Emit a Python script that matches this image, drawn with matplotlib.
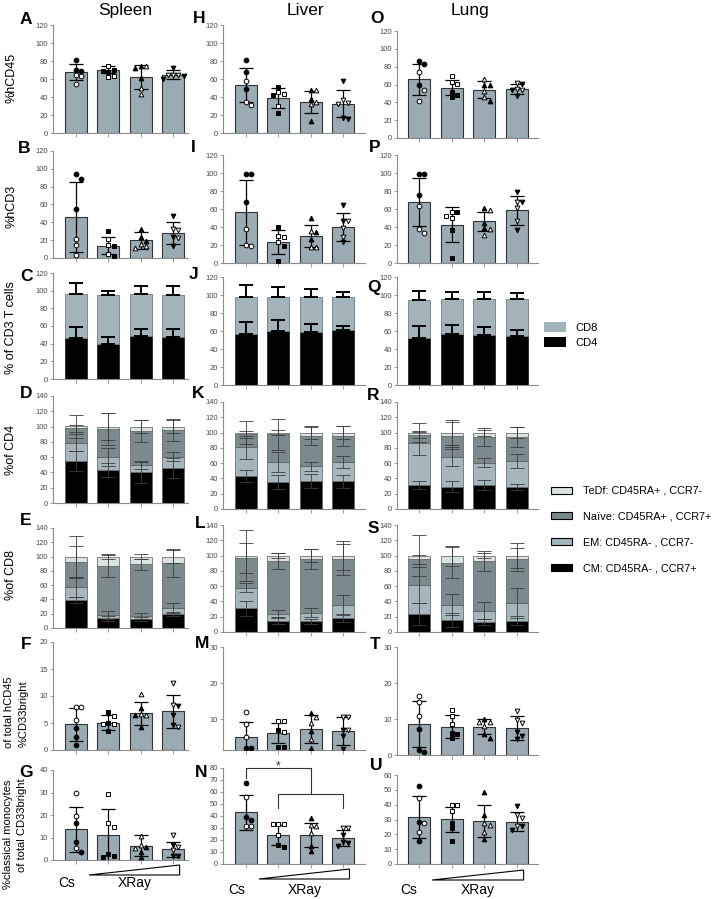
# plot.py
# Multi-panel bar chart: hCD45 / CD3 / subsets / CD33 in spleen, liver and lung

import numpy as np
import matplotlib
matplotlib.use("Agg")
import matplotlib.pyplot as plt
from matplotlib.patches import Patch, Polygon
from matplotlib.transforms import blended_transform_factory

plt.rcParams["font.family"] = ["Liberation Sans", "DejaVu Sans"]

# ===============================
# DATA
# ===============================
tissues = ["Spleen", "Liver", "Lung"]
group_markers = ["o", "s", "^", "v"]   # Cs, XRay low -> high

# --- %hCD45 ---
A_mean = [67.6, 70.5, 62.0, 65.0]
A_sd = [9.0, 3.5, 13.5, 4.5]
A_filled = [[81, 70, 69], [70, 69, 68], [75, 72, 61], [72, 63.5, 60.5]]
A_open = [[64, 63, 55], [74, 63, 62], [75, 50, 43.5], [64, 65, 64]]

H_mean = [53.0, 38.7, 34.2, 32.3]
H_sd = [19.0, 11.0, 12.0, 15.0]
H_filled = [[81, 67.7, 49], [51, 42, 22.3], [47.6, 38, 13], [58, 16, 16.7]]
H_open = [[58, 31, 34.6], [42.8, 45.7, 29.7], [47.6, 32, 34], [33.5, 36.4, 32.3]]

O_mean = [65.8, 56.5, 54.0, 55.4]
O_sd = [17.5, 8.7, 9.7, 5.6]
O_filled = [[83, 86.6, 59], [52, 46.5, 48.3], [59, 59, 41], [60.6, 54, 47]]
O_open = [[74, 54, 42], [69.5, 62.8, 60.6], [66, 53, 45.7], [61.3, 54.6, 54]]

# --- %hCD3 ---
B_mean = [46.0, 13.7, 19.7, 27.9]
B_sd = [38.8, 9.5, 9.5, 12.0]
B_filled = [[89, 94, 55], [30, 13, 2.6], [33, 24, 19], [47, 23, 14]]
B_open = [[21, 15, 3.7], [21, 15, 4.8], [16, 13, 11], [32, 31, 22]]

I_mean = [56.5, 23.4, 30.0, 40.0]
I_sd = [36.0, 13.4, 12.2, 15.4]
I_filled = [[98.5, 98.5, 67.7], [39.8, 18.6, 2], [50, 35, 27], [65, 47, 23]]
I_open = [[38, 18.6, 20], [29.7, 28.6, 23.4], [36, 17.8, 17.8], [46.5, 39, 29]]

P_mean = [68.0, 42.7, 46.5, 58.7]
P_sd = [27.0, 19.6, 10.5, 16.0]
P_filled = [[98.5, 98.5, 75.5], [56.5, 37, 5.6], [61.3, 44.6, 39], [78.8, 67.7, 36.4]]
P_open = [[63, 38, 33.5], [52.4, 56.5, 49.8], [58.7, 38, 31.6], [67.7, 61.3, 47]]

# --- % of CD3 T cells (CD4 / CD8) ---
C_cd4 = [46.4, 40.0, 48.3, 47.2]
C_cd4_sd = [12.1, 7.5, 8.7, 9.8]
C_cd8 = [50.2, 55.5, 47.7, 47.8]
C_cd8_sd = [11.7, 4.1, 8.9, 10.7]

J_cd4 = [56.3, 60.0, 58.5, 60.7]
J_cd4_sd = [13.3, 12.2, 9.3, 5.3]
J_cd8 = [41.1, 37.4, 39.5, 36.7]
J_cd8_sd = [13.6, 11.1, 8.7, 6.3]

Q_cd4 = [52.6, 56.7, 55.5, 54.8]
Q_cd4_sd = [13.4, 10.0, 8.5, 6.2]
Q_cd8 = [41.4, 38.5, 39.7, 40.4]
Q_cd8_sd = [10.8, 8.5, 8.5, 6.6]

# --- memory subsets: rows CM, EM, Naive, TeDf ; columns = groups ---
subset_names = ["TeDf: CD45RA+ , CCR7-", "Naïve: CD45RA+ , CCR7+",
                "EM: CD45RA- , CCR7-", "CM: CD45RA- , CCR7+"]

D_seg = [[54.6, 43.0, 40.0, 45.5], [24.3, 16.8, 10.0, 15.2],
         [18.6, 37.2, 44.0, 34.7], [3.0, 3.0, 6.0, 4.6]]
D_sd = [[13, 9, 14, 13], [11, 12, 5, 6], [5, 21, 14, 14], [15, 18, 9, 9]]

K_seg = [[43.0, 35.0, 36.6, 36.0], [38.0, 26.5, 19.2, 25.0],
         [16.5, 36.0, 39.7, 34.0], [2.5, 2.5, 4.5, 5.0]]
K_sd = [[8, 9, 9, 8], [15, 13, 6, 8], [4, 20, 12, 13], [15, 3, 8, 9]]

R_seg = [[31.0, 29.0, 31.4, 28.4], [55.0, 39.5, 29.2, 34.6],
         [11.0, 27.5, 33.4, 31.0], [3.0, 4.0, 6.0, 6.0]]
R_sd = [[5, 7, 6, 4], [16, 12, 6, 9], [4, 18, 12, 13], [12, 16, 4, 7]]

E_seg = [[39.0, 13.5, 13.0, 20.0], [18.0, 4.5, 4.0, 8.0],
         [36.0, 69.0, 72.0, 63.0], [7.0, 13.0, 11.0, 9.0]]
E_sd = [[4, 3, 3, 3], [13, 6, 4, 7], [22, 15, 8, 19], [29, 4, 4, 9]]

L_seg = [[31.0, 14.0, 14.0, 18.0], [27.0, 10.0, 11.0, 17.0],
         [39.0, 69.0, 70.0, 60.0], [3.0, 7.0, 5.0, 5.0]]
L_sd = [[10, 4, 3, 5], [6, 5, 6, 13], [20, 11, 13, 20], [33, 3, 8, 19]]

S_seg = [[23.5, 16.0, 13.0, 15.0], [38.2, 19.6, 15.0, 23.0],
         [33.3, 55.1, 65.0, 57.0], [5.0, 9.3, 7.0, 5.0]]
S_sd = [[14, 9, 4, 6], [24, 14, 11, 20], [6, 20, 13, 15], [27, 13, 3, 16]]

# --- %CD33bright of total hCD45 ---
F_mean = [4.75, 5.06, 6.8, 7.2]
F_sd = [3.0, 1.35, 2.1, 3.05]
F_filled = [[4, 2.5, 0.9], [5, 7, 3.6], [7.7, 6.5, 4.3], [8.1, 6.5, 4.6]]
F_open = [[8, 8, 5.6], [6.3, 4.8, 4.8], [10.4, 6.7, 6.5], [12.5, 8.3, 4.3]]

M_mean = [5.0, 6.1, 7.2, 6.75]
M_sd = [4.3, 2.8, 3.8, 3.95]
M_filled = [[2, 2, 0.5], [6.9, 2.2, 2.2], [11.8, 6.8, 1.9], [7, 5.2, 1.8]]
M_open = [[12, 8.5, 5], [9.4, 9.4, 6.4], [10.6, 8.9, 4.4], [10.7, 10.7, 6.9]]

T_mean = [8.6, 7.9, 7.9, 7.5]
T_sd = [6.5, 3.1, 2.2, 3.2]
T_filled = [[7.3, 0.8, 1.5], [4.7, 5.9, 6.1], [10, 4.8, 5.9], [6.3, 4.4, 5.2]]
T_open = [[16.5, 14.6, 10.9], [12.6, 10.7, 8.7], [9.3, 9.3, 8], [12.3, 9.6, 8.9]]

# --- %classical monocytes of total CD33bright ---
G_mean = [13.6, 11.1, 6.4, 4.7]
G_sd = [10.0, 11.6, 4.7, 3.4]
G_filled = [[16.3, 8.1, 3.7], [2.7, 2.0, 1.5], [5.9, 3.7, 1.5], [6.7, 1.8, 1.8]]
G_open = [[30, 19.6, 5.2], [29.3, 16.3, 14.8], [10.8, 6.7, 5.2], [11.1, 5.9, 4.4]]

N_mean = [43.0, 24.4, 24.2, 21.7]
N_sd = [14.5, 8.4, 9.8, 6.7]
N_filled = [[67.5, 39, 37], [16, 14], [38.3, 15.3, 10.6], [24.4, 17.5, 18, 14.7]]
N_open = [[55.5, 31.5, 31.5], [33.3, 33.3, 33.3, 24.4], [31.4, 32.2, 25.8], [30, 30]]
N_sig_upper = 80      # Cs vs XRay bracket
N_sig_lower = 58.3
N_sig_drops = [72, 46.7]

U_mean = [31.6, 30.2, 29.1, 28.6]
U_sd = [14.0, 8.4, 10.9, 6.2]
U_filled = [[52.8, 28.6, 15.7], [27.5, 24.2, 15.2], [48.4, 33.1, 16.8], [39.2, 25.3, 22.6]]
U_open = [[44.8, 27.5, 21.9], [39.9, 39.9, 36], [26.4, 27.5, 21.9], [33.1, 30.9, 25.3]]

# ===============================
# STYLE
# ===============================
W, H = 728, 899
BAR = "#9aabb3"
CD8_COLOR = "#a2b3ba"
SUBSET_COLORS = ["#000000", "#a5b6bc", "#7b8b8d", "#dbe2e2"]  # CM, EM, Naive, TeDf
SPINE = "#8c8c8c"
TICKLAB = "#4a4a4a"
BAR_W = 0.68

fig = plt.figure(figsize=(W / 100, H / 100), dpi=100)

# column pixel extents and x limits
col_px = [(53, 188), (223, 365), (397, 538)]
col_xlim = [(-0.71, 3.46), (-0.71, 3.68), (-0.67, 3.64)]


def make_axes(col, top, bottom):
    left, right = col_px[col]
    ax = fig.add_axes([left / W, 1 - bottom / H, (right - left) / W, (bottom - top) / H])
    ax.set_xlim(*col_xlim[col])
    return ax


def style(ax, ylim, yticks):
    ax.set_ylim(*ylim)
    ax.set_yticks(yticks)
    ax.set_xticks(range(4))
    ax.set_xticklabels([])
    for s in ["top", "right"]:
        ax.spines[s].set_visible(False)
    for s in ["left", "bottom"]:
        ax.spines[s].set_color(SPINE)
        ax.spines[s].set_linewidth(0.8)
    ax.tick_params(axis="y", length=2.5, width=0.6, color=SPINE, labelsize=5.5,
                   labelcolor=TICKLAB, pad=1)
    ax.tick_params(axis="x", length=3, width=0.6, color=SPINE)


def swarm(ax, vals, diam=4.6):
    # spread points horizontally (pixels) where they would overlap
    ys = ax.transData.transform(np.column_stack([np.zeros(len(vals)), vals]))[:, 1]
    placed, offs = [], []
    for y in ys:
        for k in [0, 1, -1, 2, -2, 3, -3]:
            dx = k * diam * 1.15
            if all(abs(dx - px) >= diam or abs(y - py) >= diam for px, py in placed):
                break
        placed.append((dx, y))
        offs.append(dx)
    p0 = ax.transData.transform([[0, 0], [1, 0]])
    return np.array(offs) / (p0[1, 0] - p0[0, 0])


def scatter_panel(ax, mean, sd, filled, opened, ylim, yticks):
    x = np.arange(4)
    style(ax, ylim, yticks)
    ax.bar(x, mean, width=BAR_W, color=BAR, edgecolor="#333333", linewidth=0.8, zorder=1)
    ax.errorbar(x, mean, yerr=sd, fmt="none", ecolor="black", elinewidth=0.9,
                capsize=5, capthick=0.9, zorder=2)
    for i in range(4):
        vals = list(filled[i]) + list(opened[i])
        solid = [True] * len(filled[i]) + [False] * len(opened[i])
        order = np.argsort(vals)[::-1]
        vals = [vals[j] for j in order]
        solid = [solid[j] for j in order]
        dx = swarm(ax, vals)
        for v, s, d in zip(vals, solid, dx):
            ax.plot(i + d, v, marker=group_markers[i], ms=3.4, mew=0.7,
                    mec="black", mfc="black" if s else "white", zorder=3)


def cd_panel(ax, cd4, cd4_sd, cd8, cd8_sd):
    x = np.arange(4)
    style(ax, (0, 120), range(0, 121, 20))
    cd4 = np.array(cd4)
    top = cd4 + np.array(cd8)
    ax.bar(x, cd4, width=BAR_W, color="black", edgecolor="#222222", linewidth=0.6, zorder=1)
    ax.bar(x, cd8, width=BAR_W, bottom=cd4, color=CD8_COLOR, edgecolor="#6e7e84",
           linewidth=0.6, zorder=1)
    zeros = np.zeros(4)
    ax.errorbar(x, cd4, yerr=[zeros, cd4_sd], fmt="none", ecolor="black",
                elinewidth=1.4, capsize=5, capthick=1.4, zorder=2)
    ax.errorbar(x, top, yerr=[zeros, cd8_sd], fmt="none", ecolor="black",
                elinewidth=1.4, capsize=5, capthick=1.4, zorder=2)


def subset_panel(ax, seg, sd):
    x = np.arange(4)
    style(ax, (0, 140), range(0, 141, 20))
    bottom = np.zeros(4)
    for k in range(4):
        ax.bar(x, seg[k], width=BAR_W, bottom=bottom, color=SUBSET_COLORS[k],
               edgecolor="#5a5a5a", linewidth=0.5, zorder=1)
        bottom = bottom + np.array(seg[k])
        ax.errorbar(x, bottom, yerr=sd[k], fmt="none", ecolor="#3c3c3c",
                    elinewidth=0.6, capsize=5, capthick=0.6, zorder=2)


# ===============================
# PANELS
# ===============================
y120 = range(0, 121, 20)

ax = make_axes(0, 25, 133)
scatter_panel(ax, A_mean, A_sd, A_filled, A_open, (0, 120), y120)
ax = make_axes(1, 25, 133)
scatter_panel(ax, H_mean, H_sd, H_filled, H_open, (0, 120), y120)
ax = make_axes(2, 31, 138)
scatter_panel(ax, O_mean, O_sd, O_filled, O_open, (0, 120), y120)

ax = make_axes(0, 151, 258)
scatter_panel(ax, B_mean, B_sd, B_filled, B_open, (0, 120), y120)
ax = make_axes(1, 155, 263)
scatter_panel(ax, I_mean, I_sd, I_filled, I_open, (0, 120), y120)
ax = make_axes(2, 155, 263)
scatter_panel(ax, P_mean, P_sd, P_filled, P_open, (0, 120), y120)

cd_panel(make_axes(0, 273, 379), C_cd4, C_cd4_sd, C_cd8, C_cd8_sd)
cd_panel(make_axes(1, 277, 385), J_cd4, J_cd4_sd, J_cd8, J_cd8_sd)
cd_panel(make_axes(2, 277, 385), Q_cd4, Q_cd4_sd, Q_cd8, Q_cd8_sd)

subset_panel(make_axes(0, 396, 503), D_seg, D_sd)
subset_panel(make_axes(1, 402, 509), K_seg, K_sd)
subset_panel(make_axes(2, 402, 509), R_seg, R_sd)

subset_panel(make_axes(0, 528, 628), E_seg, E_sd)
subset_panel(make_axes(1, 525, 632), L_seg, L_sd)
subset_panel(make_axes(2, 525, 632), S_seg, S_sd)

ax = make_axes(0, 642, 750)
scatter_panel(ax, F_mean, F_sd, F_filled, F_open, (0, 20), range(0, 21, 5))
ax = make_axes(1, 647, 750)
scatter_panel(ax, M_mean, M_sd, M_filled, M_open, (1.4, 30), [10, 20, 30])
ax = make_axes(2, 647, 755)
scatter_panel(ax, T_mean, T_sd, T_filled, T_open, (0, 30), [0, 10, 20, 30])

bottom_axes = []
ax = make_axes(0, 770, 860)
scatter_panel(ax, G_mean, G_sd, G_filled, G_open, (0, 40), range(0, 41, 10))
bottom_axes.append(ax)
ax = make_axes(1, 768, 864)
scatter_panel(ax, N_mean, N_sd, N_filled, N_open, (0, 80), range(0, 81, 10))
bottom_axes.append(ax)
axN = ax
ax = make_axes(2, 775, 864)
scatter_panel(ax, U_mean, U_sd, U_filled, U_open, (0, 60), range(0, 61, 10))
bottom_axes.append(ax)

# significance bracket on N
kw = dict(color="#333333", lw=0.8, clip_on=False, zorder=4)
axN.plot([0, 0, 2, 2], [N_sig_drops[0], N_sig_upper, N_sig_upper, N_sig_lower], **kw)
axN.plot([1, 1, 3, 3], [N_sig_drops[1], N_sig_lower, N_sig_lower, N_sig_drops[1]], **kw)
axN.text(1, N_sig_upper - 1, "*", ha="center", va="baseline", fontsize=8.5,
         color="#333333", clip_on=False)

# Cs / XRay wedge under the bottom row
wedge_y = [(875, 865), (879, 869), (880, 870)]
label_y = [883, 890, 890]
for ax, (yb, yt), ly in zip(bottom_axes, wedge_y, label_y):
    tr = blended_transform_factory(ax.transData, fig.transFigure)
    ax.add_patch(Polygon([(0.4, 1 - yb / H), (3.2, 1 - yt / H), (3.2, 1 - yb / H)],
                         closed=True, transform=tr, facecolor="white",
                         edgecolor="black", lw=0.8, clip_on=False))
    ax.text(-0.3, 1 - ly / H, "Cs", transform=tr, ha="center", va="center", fontsize=10)
    ax.text(1.8, 1 - ly / H, "XRay", transform=tr, ha="center", va="center", fontsize=10)

# ===============================
# TEXT: titles, letters, y labels
# ===============================
for name, xc in zip(tissues, [125, 305, 470]):
    fig.text(xc / W, 1 - 15 / H, name, ha="center", va="baseline", fontsize=12.5)

letters = [("A", 20, 24), ("B", 18, 153), ("C", 20, 281), ("D", 20, 398),
           ("E", 20, 525), ("F", 21, 649), ("G", 19, 777),
           ("H", 193, 23), ("I", 191, 152), ("J", 189, 279), ("K", 192, 398),
           ("L", 195, 528), ("M", 195, 648), ("N", 195, 777),
           ("O", 370, 23), ("P", 369, 152), ("Q", 367, 292), ("R", 367, 400),
           ("S", 368, 533), ("T", 370, 649), ("U", 370, 770)]
for lab, lx, ly in letters:
    fig.text(lx / W, 1 - ly / H, lab, ha="left", va="baseline", fontsize=12.5,
             fontweight="bold")

ylabels = [("%hCD45", 11.5, 78), ("%hCD3", 11.5, 206), ("% of CD3 T cells", 11.5, 328),
           ("%of CD4", 11.5, 450), ("%of CD8", 11.5, 575)]
for lab, lx, ly in ylabels:
    fig.text(lx / W, 1 - ly / H, lab, rotation=90, ha="center", va="center", fontsize=9)

for lab, lx, ly in [("of total hCD45", 9.5, 712), ("%CD33bright", 24, 714),
                    ("%classical monocytes", 8.5, 834), ("of total CD33bright", 22.5, 825)]:
    fig.text(lx / W, 1 - ly / H, lab, rotation=90, ha="center", va="center", fontsize=8)

# ===============================
# LEGENDS
# ===============================
h1 = [Patch(facecolor=CD8_COLOR, edgecolor="none"), Patch(facecolor="black", edgecolor="none")]
fig.legend(h1, ["CD8", "CD4"], loc="upper left", bbox_to_anchor=(544 / W, 1 - 322 / H),
           frameon=False, fontsize=8, handlelength=2.0, handleheight=1.05,
           handletextpad=0.8, labelspacing=0.35, borderpad=0, borderaxespad=0)

h2 = [Patch(facecolor=c, edgecolor="black", lw=0.8) for c in SUBSET_COLORS[::-1]]
fig.legend(h2, subset_names, loc="upper left", bbox_to_anchor=(551 / W, 1 - 486 / H),
           frameon=False, fontsize=7.8, handlelength=1.95, handleheight=0.6,
           handletextpad=1.0, labelspacing=1.45, borderpad=0, borderaxespad=0)

fig.savefig("out.png", dpi=100)
